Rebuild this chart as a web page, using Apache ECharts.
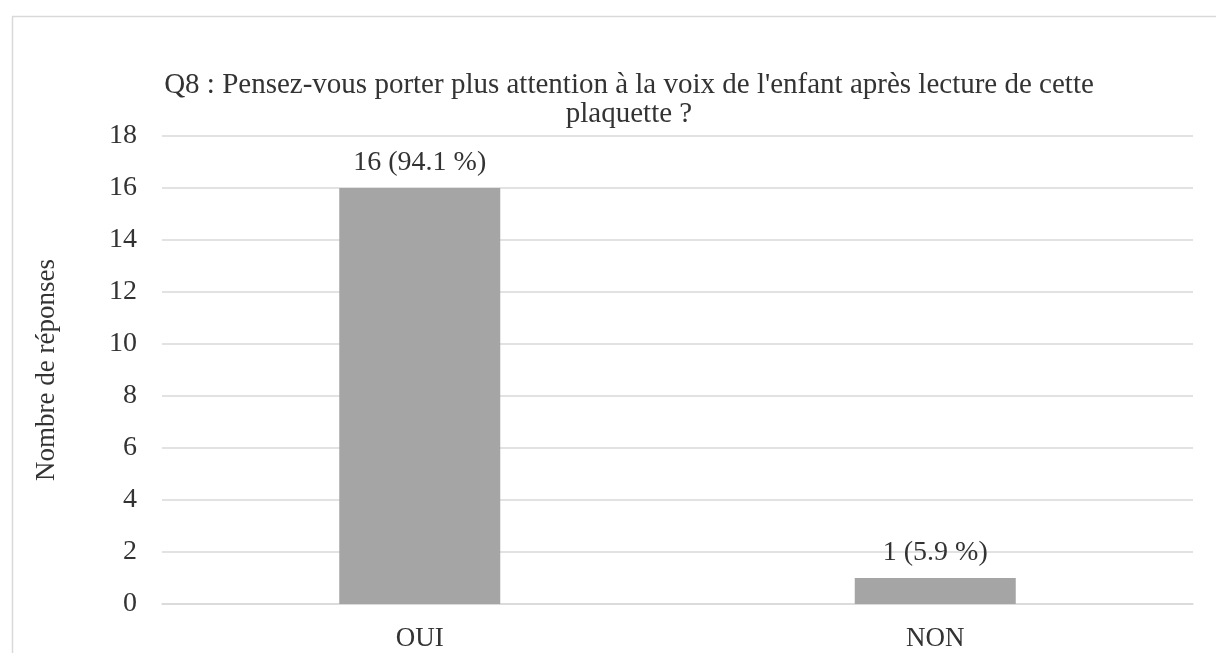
<!DOCTYPE html>
<html>
<head>
<meta charset="utf-8">
<script src="https://cdn.jsdelivr.net/npm/echarts@6/dist/echarts.min.js"></script>
<style>
  html, body { margin: 0; padding: 0; background: #fff; }
  #chart { width: 1216px; height: 653px; }
</style>
</head>
<body>
<div id="chart"></div>
<script>
// réponses à la question Q8
var categories = ['OUI', 'NON'];
var counts = [16, 1];
var percents = [94.1, 5.9];
var yTicks = [0, 18, 2]; // min, max, interval

var chart = echarts.init(document.getElementById('chart'));
var font = '"Liberation Serif", "Times New Roman", serif';

var option = {
  backgroundColor: '#fff',
  animation: false,
  textStyle: { fontFamily: font, color: '#333' },
  title: {
    text: "Q8 : Pensez-vous porter plus attention à la voix de l'enfant après lecture de cette\nplaquette ?",
    left: 624,
    top: 66,
    textAlign: 'center',
    textStyle: { fontFamily: font, fontSize: 29, fontWeight: 'normal', color: '#333', lineHeight: 29 }
  },
  graphic: [{
    type: 'rect',
    left: 10,
    top: 14,
    shape: { width: 1300, height: 700 },
    style: { fill: 'none', stroke: '#d9d9d9', lineWidth: 1.5 },
    silent: true,
    z: -1
  }],
  grid: { left: 162, right: 23, top: 136, bottom: 49 },
  xAxis: {
    type: 'category',
    data: categories,
    axisTick: { show: false },
    axisLine: { lineStyle: { color: '#d9d9d9', width: 1.5 } },
    axisLabel: { fontFamily: font, fontSize: 27, color: '#333', margin: 21 }
  },
  yAxis: {
    type: 'value',
    min: yTicks[0],
    max: yTicks[1],
    interval: yTicks[2],
    name: 'Nombre de réponses',
    nameLocation: 'middle',
    nameGap: 102,
    nameTextStyle: { fontFamily: font, fontSize: 27, color: '#333' },
    axisLine: { show: false },
    axisTick: { show: false },
    axisLabel: { fontFamily: font, fontSize: 28, color: '#333', margin: 25 },
    splitLine: { lineStyle: { color: '#d9d9d9', width: 1.5 } }
  },
  series: [{
    type: 'bar',
    data: counts,
    barWidth: 161,
    itemStyle: { color: '#a5a5a5' },
    label: {
      show: true,
      position: 'top',
      distance: 11,
      fontFamily: font,
      fontSize: 28,
      color: '#333',
      formatter: function (p) {
        return p.value + ' (' + percents[p.dataIndex] + ' %)';
      }
    }
  }]
};

chart.setOption(option);
</script>
</body>
</html>
